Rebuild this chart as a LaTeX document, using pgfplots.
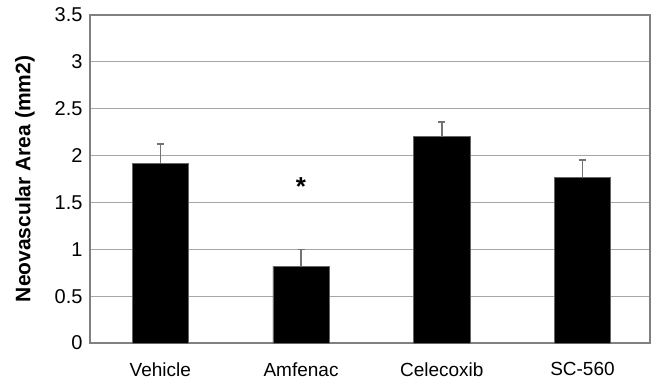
\documentclass[border=0pt]{standalone}
\usepackage{fontspec}
\setmainfont{Liberation Sans}
\usepackage{pgfplots}
\pgfplotsset{compat=1.18}
\begin{document}
\begin{tikzpicture}
\begin{axis}[
  scale only axis,
  width=560bp, height=328bp,
  xmin=-0.5, xmax=3.48,
  ymin=0, ymax=3.5,
  ytick={0,0.5,1,1.5,2,2.5,3,3.5},
  yticklabels={0,0.5,1,1.5,2,2.5,3,3.5},
  xtick={0,1,2,3},
  xticklabels={Vehicle,Amfenac,Celecoxib,SC-560},
  major tick length=0pt,
  ymajorgrids,
  grid style={draw=black!35, line width=1pt},
  axis line style={draw=black!50, line width=1.2pt},
  xticklabel style={font=\fontsize{19bp}{21bp}\selectfont, anchor=north, yshift=-16bp},
  yticklabel style={font=\fontsize{20bp}{22bp}\selectfont, anchor=east, xshift=-4bp},
  ylabel={Neovascular Area (mm2)},
  ylabel style={at={(axis description cs:-0.116,0.5)}, anchor=center, rotate=0, font=\fontsize{21bp}{23bp}\selectfont\bfseries},
  ybar, bar width=0.40,
]
\addplot[fill=black, draw=black!60, line width=0.8pt,
  error bars/.cd, y dir=plus, y explicit,
  error bar style={draw=black!55, line width=1.5pt},
  error mark options={rotate=90, mark size=3.5bp, draw=black!55, line width=1.5pt}]
  coordinates {(0,1.917) +- (0,0.208) (1,0.82) +- (0,0.18) (2,2.20) +- (0,0.16) (3,1.766) +- (0,0.187)};
\node[anchor=base, font=\fontsize{26bp}{28bp}\selectfont\bfseries] at (axis cs:1,1.57) {*};
\end{axis}
\pgfresetboundingbox
\path ([shift={(-90bp,-42bp)}]current axis.south west) rectangle ([shift={(4bp,15bp)}]current axis.north east);
\end{tikzpicture}
\end{document}
